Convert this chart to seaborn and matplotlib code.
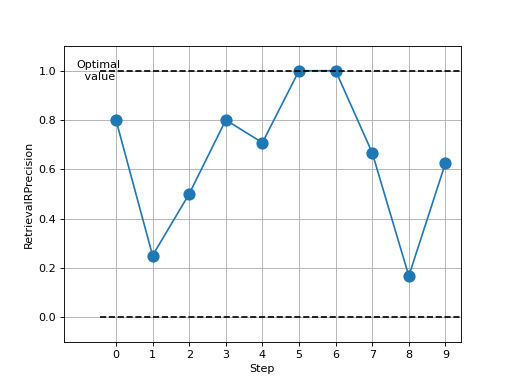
import seaborn as sns
import matplotlib
matplotlib.use('Agg')
import matplotlib.pyplot as plt

# Datos
steps = [0, 1, 2, 3, 4, 5, 6, 7, 8, 9]
precision = [0.8, 0.25, 0.5, 0.8, 0.708, 1.0, 1.0, 0.667, 0.167, 0.625]
optimal = 1.0
minimum = 0.0

fig, ax = plt.subplots(figsize=(6.4, 4.8), dpi=80)

sns.lineplot(x=steps, y=precision, marker='o', markersize=11, markeredgewidth=0,
             color='#1f77b4', ax=ax)

# Lineas de referencia
ax.hlines([optimal, minimum], -0.45, 9.6, colors='black', linestyles='--')
ax.text(-0.48, optimal, 'Optimal\n value', ha='center', va='center', fontsize=10)

ax.set_xlim(-1.42, 9.42)
ax.set_ylim(-0.1, 1.1)
ax.set_xticks(steps)
ax.set_yticks([0.0, 0.2, 0.4, 0.6, 0.8, 1.0])
ax.grid(True)
ax.set_xlabel('Step')
ax.set_ylabel('RetrievalRPrecision')

fig.savefig('out.png', dpi=80)
